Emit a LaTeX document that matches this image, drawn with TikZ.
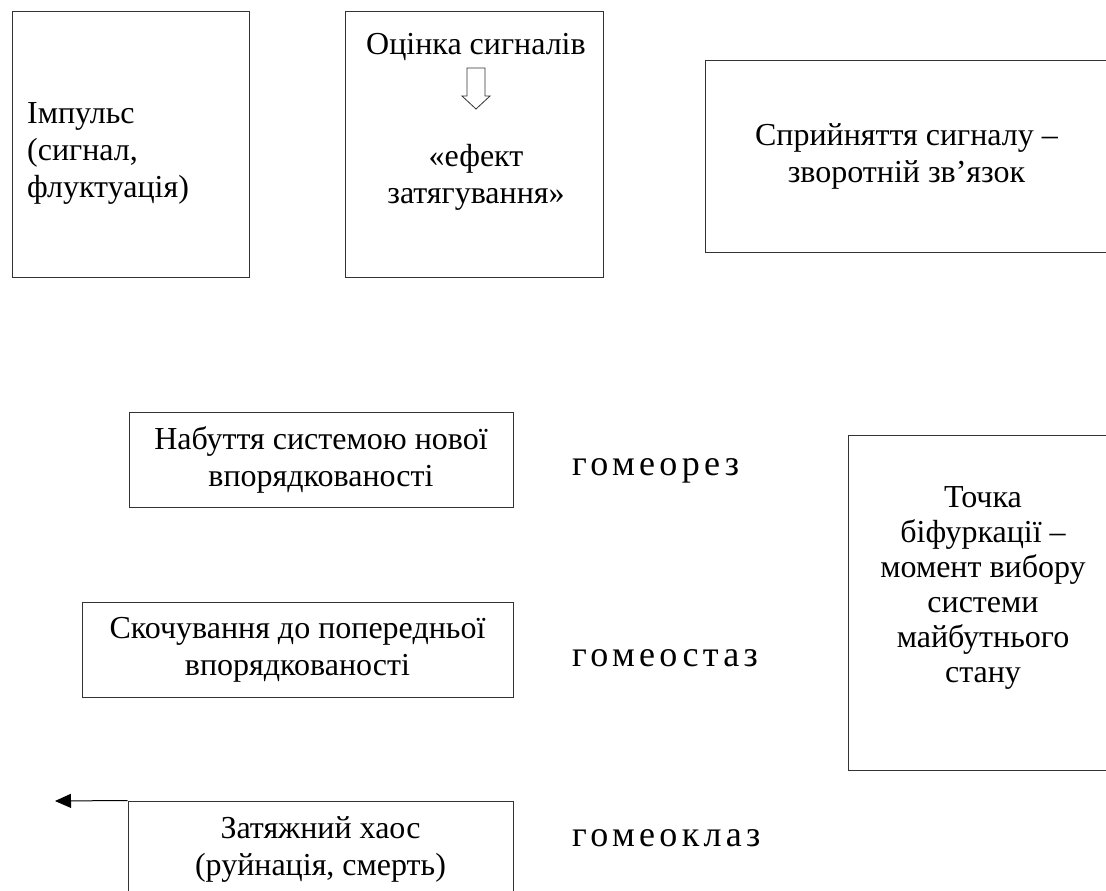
\documentclass[tikz,border=0pt]{standalone}
\usepackage{fontspec}
\setmainfont{Liberation Serif}
\newfontfamily\spacedfont[LetterSpace=12]{Liberation Serif}
\usetikzlibrary{arrows.meta}
\begin{document}
\begin{tikzpicture}[x=1pt,y=-1pt,
  box/.style={draw=black!80, line width=1pt, rectangle, inner sep=0pt, align=center, font=\fontsize{32}{37}\selectfont},
  txt/.style={inner sep=0pt, align=center, font=\fontsize{32}{37}\selectfont},
  gomeo/.style={inner sep=0pt, anchor=base west, font=\fontsize{36}{40}\spacedfont},
  hollow/.style={draw=black!80, line width=0.8pt, fill=white}]
\useasboundingbox (0,0) rectangle (1106,891);
\clip (0,0) rectangle (1106,891);
\fill[white] (0,0) rectangle (1106,891);
% top row
\node[box, minimum width=237pt, minimum height=265pt] (b1) at (130.5,144.5) {};
\node[txt, align=left, anchor=west] (t1) at (27,153) {Імпульс\\(сигнал,\\флуктуація)};
\node[box, minimum width=258pt, minimum height=265pt] (b2) at (474,144.5) {};
\node[txt] (t2a) at (476,47) {Оцінка сигналів};
\node[txt] (t2b) at (476,177) {«ефект\\затягування»};
\draw[hollow] (467,68) -- (485,68) -- (485,96) -- (490,96) -- (476,109) -- (462,96) -- (467,96) -- cycle;
\node[box, minimum width=403pt, minimum height=191pt] (b3) at (906.5,156.5) {Сприйняття сигналу –\\зворотній зв’язок};
% lower part
\node[box, minimum width=384pt, minimum height=95pt] (b4) at (321,459.5) {Набуття системою нової\\впорядкованості};
\node[box, minimum width=431pt, minimum height=95pt] (b5) at (297.5,649.5) {Скочування до попередньої\\впорядкованості};
\node[box, minimum width=385pt, minimum height=96pt] (b6) at (320.5,849) {Затяжний хаос\\(руйнація, смерть)};
\node[box, minimum width=270pt, minimum height=335pt] (b7) at (983,602.5) {};
\node[txt, font=\fontsize{32}{35}\selectfont] (t7) at (983,588) {Точка\\біфуркації –\\момент вибору\\системи\\майбутнього\\стану};
\node[gomeo] (g1) at (572,475) {гомеорез};
\node[gomeo] (g2) at (572,666) {гомеостаз};
\node[gomeo] (g3) at (572,846) {гомеоклаз};
\coordinate (tip) at (55,801);
\draw[black, line width=1pt, -{Triangle[length=16pt,width=14pt]}] (b6.north west) -- (tip);
\end{tikzpicture}
\end{document}
